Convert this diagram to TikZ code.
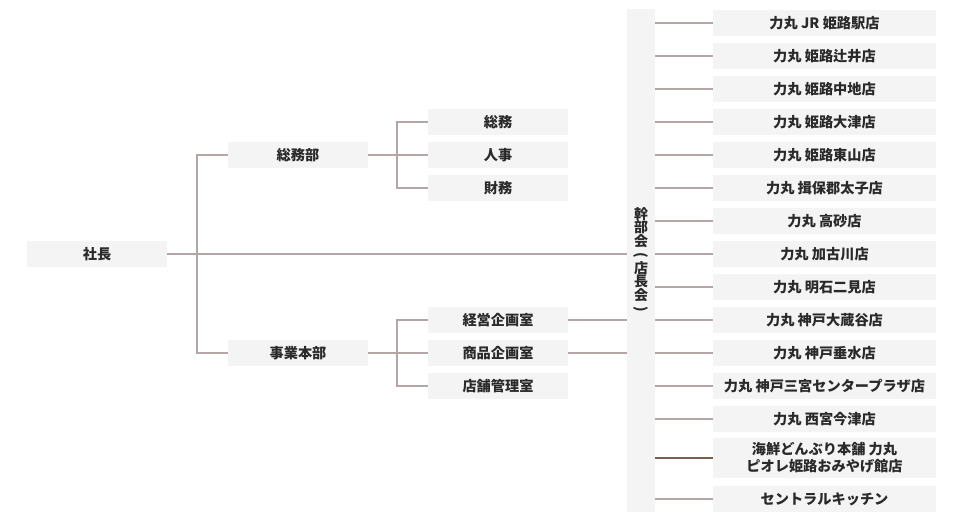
\documentclass[tikz,border=0pt]{standalone}
\usepackage{fontspec}
\setmainfont{Noto Sans CJK JP}
\definecolor{boxgray}{HTML}{F4F4F4}
\definecolor{linegray}{HTML}{B4A6A6}
\definecolor{linebrown}{HTML}{7A5E52}
\definecolor{txt}{HTML}{2A2A2A}
\tikzset{
  box/.style={fill=boxgray, inner sep=0pt, minimum height=26pt, text=txt,
    font=\fontsize{14.2}{16}\selectfont\bfseries, align=center},
  lbox/.style={box, minimum width=140pt},
  rbox/.style={box, minimum width=223pt},
  conn/.style={draw=linegray, line width=1.5pt},
  conndark/.style={draw=linebrown, line width=1.5pt},
}
\newcommand{\vparL}{\rotatebox[origin=c]{-90}{(}}
\newcommand{\vparR}{\rotatebox[origin=c]{-90}{)}}
\begin{document}
\begin{tikzpicture}[x=1pt,y=-1pt]
\useasboundingbox (0,0) rectangle (960,518);
% left
\node[lbox] (shacho) at (97,254) {社長};
\node[lbox] (somubu) at (298,155) {総務部};
\node[lbox] (jigyo) at (298,353) {事業本部};
% middle
\node[lbox] (somu) at (498,122) {総務};
\node[lbox] (jinji) at (498,155) {人事};
\node[lbox] (zaimu) at (498,188) {財務};
\node[lbox] (keiei) at (498,320) {経営企画室};
\node[lbox] (shohin) at (498,353) {商品企画室};
\node[lbox] (tenpo) at (498,386) {店舗管理室};
% kanbu column
\node[fill=boxgray, minimum width=28pt, minimum height=503pt, inner sep=0pt] (kanbu) at (641,260.5) {};
\node[text=txt, font=\fontsize{14}{13.2}\selectfont\bfseries, align=center, inner sep=0pt] (kanbutext) at (641,260.5)
  {幹\\部\\会\\\vparL\\店\\長\\会\\\vparR};
% right
\node[rbox] (r1) at (824.5,23) {力丸 JR 姫路駅店};
\node[rbox] (r2) at (824.5,56) {力丸 姫路辻井店};
\node[rbox] (r3) at (824.5,89) {力丸 姫路中地店};
\node[rbox] (r4) at (824.5,122) {力丸 姫路大津店};
\node[rbox] (r5) at (824.5,155) {力丸 姫路東山店};
\node[rbox] (r6) at (824.5,188) {力丸 揖保郡太子店};
\node[rbox] (r7) at (824.5,221) {力丸 高砂店};
\node[rbox] (r8) at (824.5,254) {力丸 加古川店};
\node[rbox] (r9) at (824.5,287) {力丸 明石二見店};
\node[rbox] (r10) at (824.5,320) {力丸 神戸大蔵谷店};
\node[rbox] (r11) at (824.5,353) {力丸 神戸垂水店};
\node[rbox] (r12) at (824.5,386) {力丸 神戸三宮センタープラザ店};
\node[rbox] (r13) at (824.5,419) {力丸 西宮今津店};
\node[rbox, minimum height=40pt, font=\fontsize{14.2}{17}\selectfont\bfseries] (r14) at (824.5,458) {海鮮どんぶり本舗 力丸\\ピオレ姫路おみやげ館店};
\node[rbox] (r15) at (824.5,499) {セントラルキッチン};
% connectors left
\draw[conn] (shacho.east) -- (shacho.east -| kanbu.west);
\draw[conn] (somubu.west) -- ++(-31,0) |- (jigyo.west);
% middle trees
\draw[conn] (somubu.east) -- (jinji.west);
\draw[conn] (somu.west) -- ++(-31,0) |- (zaimu.west);
\draw[conn] (jigyo.east) -- (shohin.west);
\draw[conn] (keiei.west) -- ++(-31,0) |- (tenpo.west);
\draw[conn] (keiei.east) -- (keiei.east -| kanbu.west);
\draw[conn] (shohin.east) -- (shohin.east -| kanbu.west);
% right connectors
\foreach \n in {r1,r2,r3,r4,r5,r6,r7,r8,r9,r10,r11,r12,r13,r15}
  \draw[conn] (\n.west -| kanbu.east) -- (\n.west);
\draw[conndark] (r14.west -| kanbu.east) -- (r14.west);
\end{tikzpicture}
\end{document}
